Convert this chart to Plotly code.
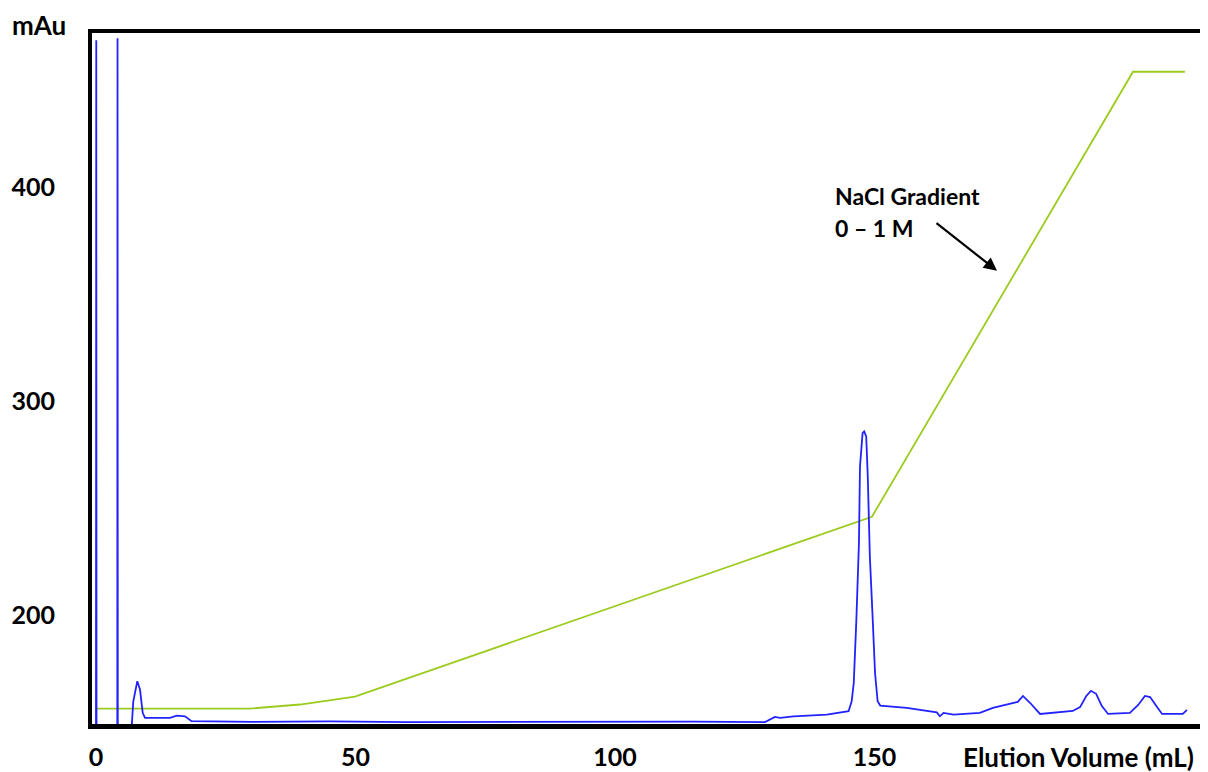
import plotly.graph_objects as go

# UV absorbance trace (mL, mAu)
uv_volume = [0.0, 0.05, 0.1, 4.1, 4.15, 4.2, 6.8, 6.88, 7.19, 7.96, 8.48, 9.0, 9.44, 14.26, 15.55,
             17.15, 18.1, 18.4, 30.0, 45.0, 60.0, 80.0, 100.0, 115.0, 128.9, 130.8, 131.8, 134.4,
             140.8, 145.0, 145.6, 146.0, 146.5, 147.0, 147.2, 147.7, 148.0, 148.4, 148.7, 149.1,
             149.6, 150.1, 150.6, 151.1, 156.2, 162.0, 162.6, 163.3, 165.2, 170.3, 172.8, 175.1,
             177.6, 178.6, 180.0, 181.9, 188.2, 189.6, 190.8, 191.7, 192.7, 193.8, 195.0, 199.2,
             200.8, 202.1, 203.1, 204.3, 205.4, 209.4, 210.2]
uv_mau = [145.0, 468.5, 145.0, 145.0, 469.5, 145.0, 145.0, 149.6, 159.7, 169.1, 165.2, 154.3, 152.0,
          152.0, 153.0, 152.7, 151.2, 150.4, 150.1, 150.3, 150.0, 150.2, 150.1, 150.2, 150.0, 152.4,
          152.0, 152.7, 153.5, 155.1, 159.7, 168.3, 197.6, 233.7, 269.4, 285.0, 285.8, 283.4, 264.8,
          227.4, 200.9, 172.9, 159.7, 157.7, 156.6, 154.5, 152.7, 154.3, 153.5, 154.3, 156.6, 158.0,
          159.4, 162.2, 158.9, 153.8, 155.2, 157.0, 162.2, 164.6, 163.2, 157.5, 153.8, 154.3, 158.0,
          162.2, 161.7, 157.5, 153.8, 153.8, 155.7]

# NaCl gradient trace
grad_volume = [0.0, 29.7, 39.3, 49.9, 149.5, 199.8, 209.8]
grad_level = [156.3, 156.3, 158.2, 161.9, 245.9, 453.8, 453.8]

x_ticks = [0, 50, 100, 150]
y_ticks = [200, 300, 400]

FONT = "Lato"
fig = go.Figure()
fig.add_trace(go.Scatter(x=grad_volume, y=grad_level, mode="lines",
                         line=dict(color="#9BCB1E", width=1.8), hoverinfo="skip"))
fig.add_trace(go.Scatter(x=uv_volume, y=uv_mau, mode="lines",
                         line=dict(color="#2222FF", width=1.8), hoverinfo="skip"))

OFF = 8  # page body margin
W, H = 1208 - OFF, 772 - OFF
# desired plot area in screen pixels: x 92..1207, y 33..724
SL, SR, ST, SB = 92, 1207, 33, 724
L, T = SL - OFF, ST - OFF
R = (OFF + W) - SR
B = (OFF + H) - SB
pw, ph = SR - SL, SB - ST

def px_x(p):
    return (p - SL) / pw

def px_y(p):
    return (SB - p) / ph

fig.update_layout(
    width=W, height=H, showlegend=False,
    margin=dict(l=L, r=R, t=T, b=B),
    plot_bgcolor="white", paper_bgcolor="white",
    font=dict(family=FONT, size=25, color="black"),
    xaxis=dict(range=[-0.77, 214.06], tickvals=x_ticks, ticktext=[f"<b>{v}</b>" for v in x_ticks],
               showgrid=False, zeroline=False, showline=False, ticks="", ticklabelstandoff=16),
    yaxis=dict(range=[149.1, 471.9], tickvals=y_ticks, ticktext=[f"<b>{v}</b>" for v in y_ticks],
               showgrid=False, zeroline=False, showline=False, ticks="", ticklabelstandoff=36),
    shapes=[
        dict(type="rect", xref="paper", yref="paper", x0=px_x(88), x1=0, y0=px_y(729), y1=px_y(29),
             fillcolor="black", line=dict(width=0), layer="above"),
        dict(type="rect", xref="paper", yref="paper", x0=px_x(88), x1=px_x(1208), y0=1, y1=px_y(29),
             fillcolor="black", line=dict(width=0), layer="above"),
        dict(type="rect", xref="paper", yref="paper", x0=px_x(88), x1=px_x(1208), y0=px_y(729), y1=0,
             fillcolor="black", line=dict(width=0), layer="above"),
        dict(type="rect", xref="paper", yref="paper", x0=px_x(1206.3), x1=px_x(1208), y0=0, y1=1,
             fillcolor="black", line=dict(width=0), layer="above"),
    ],
    annotations=[
        dict(text="<b>mAu</b>", xref="paper", yref="paper", x=px_x(39), y=px_y(25),
             xanchor="center", yanchor="middle", showarrow=False, font=dict(size=26)),
        dict(text="<b>Elution Volume (mL)</b>", xref="paper", yref="paper", x=px_x(1078), y=px_y(757),
             xanchor="center", yanchor="middle", showarrow=False, font=dict(size=26)),
        dict(text="<b>NaCl Gradient</b>", x=142.0, y=395.8, xanchor="left", yanchor="middle",
             showarrow=False, font=dict(size=23)),
        dict(text="<b>0 – 1 M</b>", x=142.0, y=380.9, xanchor="left", yanchor="middle",
             showarrow=False, font=dict(size=23)),
        dict(text="", x=173.6, y=360.8, ax=-62, ay=-49, showarrow=True, arrowhead=2,
             arrowsize=1.2, arrowwidth=2.2, arrowcolor="black"),
    ],
)

fig.write_html("out.html")
